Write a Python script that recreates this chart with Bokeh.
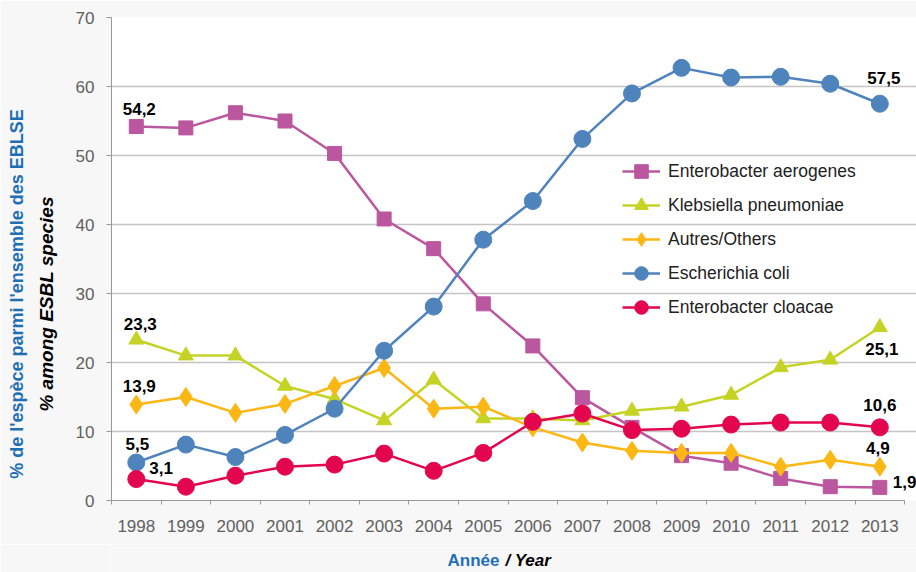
from bokeh.plotting import figure
from bokeh.layouts import column
from bokeh.models import FixedTicker, Legend, LegendItem, ColumnDataSource, Range1d, LinearAxis
from bokeh.core.properties import value
from bokeh.embed import file_html
from bokeh.resources import INLINE

years = list(range(1998, 2014))
aerogenes = [54.2, 54.0, 56.2, 55.0, 50.3, 40.8, 36.5, 28.5, 22.4, 14.9, 10.6, 6.5, 5.4, 3.2, 2.0, 1.9]
klebsiella = [23.3, 21.0, 21.0, 16.6, 14.7, 11.6, 17.5, 11.9, 11.9, 11.6, 13.0, 13.6, 15.3, 19.3, 20.4, 25.1]
autres = [13.9, 15.0, 12.7, 14.0, 16.6, 19.2, 13.3, 13.6, 10.6, 8.4, 7.2, 6.9, 6.9, 4.9, 5.9, 4.9]
ecoli = [5.5, 8.1, 6.3, 9.5, 13.3, 21.7, 28.1, 37.8, 43.4, 52.4, 59.0, 62.7, 61.3, 61.4, 60.4, 57.5]
cloacae = [3.1, 2.0, 3.6, 4.9, 5.2, 6.8, 4.3, 6.9, 11.4, 12.6, 10.2, 10.4, 11.0, 11.3, 11.3, 10.6]

series_names = ["Enterobacter aerogenes", "Klebsiella pneumoniae", "Autres/Others",
                "Escherichia coli", "Enterobacter cloacae"]
y_ticks = [0, 10, 20, 30, 40, 50, 60, 70]
y_title_fr = "% de l'espèce parmi l'ensemble des EBLSE"
y_title_en = "% among ESBL species"
x_title_fr = "Année"
x_title_en = "/ Year"

FONT = "Liberation Sans"
BG = "#f7f7f7"
BLUE_TXT = "#1f6fb5"
NBSP = "\u00a0"

p = figure(width=916, height=544, output_backend="svg", toolbar_location=None,
           x_range=Range1d(1997.5, 2013.74), y_range=Range1d(0, 70),
           min_border_left=111, min_border_right=0, min_border_top=17, min_border_bottom=44)
p.background_fill_color = "white"
p.border_fill_color = BG
p.outline_line_color = None

# x axis: labels at years, ticks between categories
p.xaxis.ticker = FixedTicker(ticks=years, minor_ticks=[y - 0.5 for y in years] + [2013.5])
p.xaxis.bounds = (1997.5, 2013.5)
p.xaxis.major_tick_out = 0
p.xaxis.major_tick_in = 0
p.xaxis.minor_tick_out = 4
p.xaxis.minor_tick_in = 0
p.xaxis.minor_tick_line_color = "#999999"
p.xaxis.axis_line_color = "#999999"
p.xaxis.major_label_standoff = 15

# y axis (inner title line)
p.yaxis.ticker = FixedTicker(ticks=y_ticks)
p.yaxis.major_tick_out = 5
p.yaxis.major_tick_in = 0
p.yaxis.minor_tick_line_color = None
p.yaxis.axis_line_color = "#999999"
p.yaxis.major_tick_line_color = "#999999"
p.yaxis.major_label_standoff = 12
p.yaxis.axis_label = y_title_en + NBSP * 17
p.yaxis.axis_label_text_font = FONT
p.yaxis.axis_label_text_font_style = "bold italic"
p.yaxis.axis_label_text_font_size = "19px"
p.yaxis.axis_label_text_color = "black"
p.yaxis.axis_label_standoff = 16
for ax in (p.xaxis, p.yaxis):
    ax.major_label_text_font = FONT
    ax.major_label_text_font_size = "17px"
    ax.major_label_text_color = "#606060"

# outer title line
outer = LinearAxis(ticker=FixedTicker(ticks=[]), axis_label=y_title_fr + NBSP * 14,
                   axis_line_color=None, major_tick_line_color=None, minor_tick_line_color=None,
                   major_label_text_font_size="0px", axis_label_standoff=6,
                   axis_label_text_font=FONT, axis_label_text_font_style="bold",
                   axis_label_text_font_size="18px", axis_label_text_color=BLUE_TXT)
p.add_layout(outer, "left")

p.xgrid.grid_line_color = None
p.ygrid.grid_line_color = "#c4c4c4"
p.ygrid.grid_line_width = 1.5

colors = ["#bb579f", "#c5d325", "#fbb713", "#4f83bc", "#e3064f"]
markers = ["square", "triangle", "diamond", "circle", "circle"]
sizes = [14, 15, 19, 17, 17]
data = [aerogenes, klebsiella, autres, ecoli, cloacae]

items = []
for name, vals, c, m, s in zip(series_names, data, colors, markers, sizes):
    src = ColumnDataSource(dict(x=years, y=vals))
    r1 = p.line("x", "y", source=src, line_color=c, line_width=2.5)
    r2 = p.scatter("x", "y", source=src, marker=m, size=s, fill_color=c, line_color=c)
    items.append(LegendItem(label=name, renderers=[r1, r2]))

legend = Legend(items=items, location=(511, 176), background_fill_alpha=0,
                border_line_color=None, padding=0, margin=0, spacing=0,
                glyph_width=38, glyph_height=34, label_standoff=8, label_height=34,
                label_text_font=FONT, label_text_font_size="17.5px", label_text_color="#222222")
p.add_layout(legend, "center")

# value annotations (first and last points)
offsets_first = [(3, -12, "center", "bottom"), (4, -10, "center", "bottom"), (3, -13, "center", "bottom"),
                 (1, -13, "center", "bottom"), (13, -5, "left", "bottom")]
offsets_last = [(13, -5, "left", "middle"), (2, 16, "center", "top"), (-2, -13, "center", "bottom"),
                (4, -20, "center", "bottom"), (0, -16, "center", "bottom")]
for vals, of, ol in zip(data, offsets_first, offsets_last):
    for idx, o in ((0, of), (-1, ol)):
        p.text(x=[years[idx]], y=[vals[idx]], text=[f"{vals[idx]:.1f}".replace(".", ",")],
               x_offset=o[0], y_offset=o[1], text_align=o[2], text_baseline=o[3],
               text_font=value(FONT), text_font_style="bold", text_font_size="17px",
               text_color="black")

# strip below for the mixed-style x axis title (its frame is aligned with the main frame)
p2 = figure(width=916, height=28, output_backend="svg", toolbar_location=None,
            x_range=Range1d(111, 916), y_range=Range1d(0, 28), x_axis_type=None, y_axis_type=None,
            min_border=0, min_border_left=0, min_border_right=0, min_border_top=0, min_border_bottom=0)
p2.background_fill_color = BG
p2.border_fill_color = BG
p2.outline_line_color = None
p2.xgrid.visible = False
p2.ygrid.visible = False
p2.text(x=[499], y=[12], text=[x_title_fr], text_align="right", text_baseline="middle",
        text_font=value(FONT), text_font_style="bold", text_font_size="17px", text_color=BLUE_TXT)
p2.text(x=[505], y=[12], text=[x_title_en], text_align="left", text_baseline="middle",
        text_font=value(FONT), text_font_style="bold italic", text_font_size="17px", text_color="black")

layout = column(p, p2, spacing=0)
open("out.html", "w").write(file_html(layout, INLINE))
